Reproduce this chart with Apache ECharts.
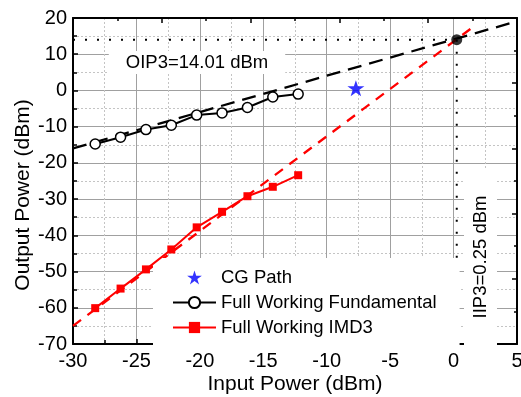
<!DOCTYPE html>
<html>
<head>
<meta charset="utf-8">
<script src="https://cdn.jsdelivr.net/npm/echarts@6/dist/echarts.min.js"></script>
<style>
  html, body { margin: 0; padding: 0; background: #fff; }
  #chart { width: 521px; height: 397px; }
</style>
</head>
<body>
<div id="chart"></div>
<script>
// Two-tone linearity measurement: input power sweep (dBm)
const inputPower = [-28.25, -26.25, -24.25, -22.25, -20.25, -18.25, -16.25, -14.25, -12.25];
// Fundamental output power (dBm)
const fundamentalOut = [-14.8, -12.9, -10.8, -9.6, -6.8, -6.2, -4.7, -1.8, -1.0];
// Third-order intermodulation output power (dBm)
const imd3Out = [-60.1, -54.7, -49.4, -43.9, -37.8, -33.5, -29.2, -26.6, -23.4];
// Single CG-path measurement [input, output]
const cgPathPoint = [-7.7, 0.6];
// Extrapolated fit lines (end points)
const fundFitX = [-30, 5];
const fundFitY = [-16.0, 19.1];
const imd3FitX = [-30, 1.8];
const imd3FitY = [-65.0, 18.2];
// Intercept point
const iip3 = 0.25;
const oip3 = 14.01;
// Axis ranges
const xRange = { min: -30, max: 5, step: 5 };
const yRange = { min: -70, max: 20, step: 10 };

const FONT = 'Liberation Sans, Arial, sans-serif';
const STAR = 'path://M50,0 L61.8,35.4 L100,35.4 L69.1,57.3 L80.9,95.1 L50,71.8 L19.1,95.1 L30.9,57.3 L0,35.4 L38.2,35.4 Z';
const zip = (xs, ys) => xs.map((x, i) => [x, ys[i]]);

const frameLine = { onZero: false, lineStyle: { color: '#000', width: 2 } };
const tickStyle = { color: '#000', width: 1.5 };

const chart = echarts.init(document.getElementById('chart'), null, { renderer: 'canvas' });

chart.setOption({
  animation: false,
  backgroundColor: '#fff',
  textStyle: { fontFamily: FONT },
  grid: { left: 73, right: 4, top: 18, bottom: 53, containLabel: false, outerBoundsMode: 'none' },
  xAxis: [
    {
      type: 'value', position: 'bottom',
      min: xRange.min, max: xRange.max, interval: xRange.step,
      axisLine: frameLine,
      axisTick: { inside: true, length: 5, lineStyle: tickStyle },
      minorTick: { show: true, splitNumber: 2, length: 4, lineStyle: tickStyle },
      axisLabel: { fontSize: 20, color: '#000', margin: 7, fontFamily: FONT, showMinLabel: true, showMaxLabel: true },
      splitLine: { show: true, lineStyle: { color: '#a0a0a0', width: 1 } },
      minorSplitLine: { show: true, lineStyle: { color: '#c4c4c4', width: 1, type: [2, 2] } },
      name: 'Input Power (dBm)', nameLocation: 'middle', nameGap: 30, nameMoveOverlap: false,
      nameTextStyle: { fontSize: 21, color: '#000', fontFamily: FONT }
    },
    {
      type: 'value', position: 'top', min: 0, max: 10, interval: 2,
      axisLine: frameLine,
      axisTick: { inside: true, length: 5, lineStyle: tickStyle },
      minorTick: { show: true, splitNumber: 2, length: 3, lineStyle: tickStyle },
      axisLabel: { show: false },
      splitLine: { show: false }
    }
  ],
  yAxis: [
    {
      type: 'value', position: 'left',
      min: yRange.min, max: yRange.max, interval: yRange.step,
      axisLine: frameLine,
      axisTick: { inside: true, length: 5, lineStyle: tickStyle },
      minorTick: { show: true, splitNumber: 2, length: 4, lineStyle: tickStyle },
      axisLabel: { fontSize: 20, color: '#000', margin: 6, fontFamily: FONT, showMinLabel: true, showMaxLabel: true },
      splitLine: { show: true, lineStyle: { color: '#a0a0a0', width: 1 } },
      minorSplitLine: { show: true, lineStyle: { color: '#c4c4c4', width: 1, type: [2, 2] } },
      name: 'Output Power (dBm)', nameLocation: 'middle', nameGap: 39, nameMoveOverlap: false,
      nameTextStyle: { fontSize: 21, color: '#000', fontFamily: FONT, padding: [0, 28, 0, 0] }
    },
    {
      type: 'value', position: 'right', min: 0, max: 10, interval: 2,
      axisLine: frameLine,
      axisTick: { inside: true, length: 5, lineStyle: tickStyle },
      minorTick: { show: true, splitNumber: 2, length: 3, lineStyle: tickStyle },
      axisLabel: { show: false },
      splitLine: { show: false }
    }
  ],
  legend: {
    orient: 'vertical',
    left: 153, top: 258,
    padding: [10, 23, 10, 19],
    backgroundColor: '#fff',
    itemWidth: 43, itemHeight: 14, itemGap: 6,
    textStyle: { fontSize: 18.5, lineHeight: 18, color: '#000', fontFamily: FONT },
    data: ['CG Path', 'Full Working Fundamental', 'Full Working IMD3']
  },
  graphic: [
    {
      type: 'text', z: 1, x: 197, y: 62.5,
      style: {
        text: 'OIP3=14.01 dBm', font: '18.5px ' + FONT, fill: '#000',
        align: 'center', verticalAlign: 'middle',
        backgroundColor: '#fff', padding: [2, 17]
      }
    },
    {
      type: 'text', z: 1, x: 480.5, y: 257, rotation: Math.PI / 2,
      style: {
        text: 'IIP3=0.25 dBm', font: '18.5px ' + FONT, fill: '#000',
        align: 'center', verticalAlign: 'middle',
        backgroundColor: '#fff', padding: [0, 27, 14, 27]
      }
    }
  ],
  series: [
    {
      name: 'Fundamental fit', type: 'line', data: zip(fundFitX, fundFitY),
      symbol: 'none', z: 3,
      lineStyle: { color: '#000', width: 2.3, type: [14, 8] }
    },
    {
      name: 'IMD3 fit', type: 'line', data: zip(imd3FitX, imd3FitY),
      symbol: 'none', z: 3,
      lineStyle: { color: '#ff0000', width: 2.3, type: [10, 8] }
    },
    {
      name: 'OIP3 guide', type: 'line', data: [[xRange.min, oip3], [iip3, oip3]],
      symbol: 'none', z: 3,
      lineStyle: { color: '#000', width: 2, type: [2, 10] }
    },
    {
      name: 'IIP3 guide', type: 'line', data: [[iip3, oip3], [iip3, yRange.min]],
      symbol: 'none', z: 3,
      lineStyle: { color: '#000', width: 2, type: [2, 10] }
    },
    {
      name: 'Full Working Fundamental', type: 'line', data: zip(inputPower, fundamentalOut),
      symbol: 'circle', symbolSize: 10, z: 4,
      lineStyle: { color: '#000', width: 2 },
      itemStyle: { color: '#fff', borderColor: '#000', borderWidth: 1.5 }
    },
    {
      name: 'Full Working IMD3', type: 'line', data: zip(inputPower, imd3Out),
      symbol: 'rect', symbolSize: 8, z: 4,
      lineStyle: { color: '#ff0000', width: 2 },
      itemStyle: { color: '#ff0000' }
    },
    {
      name: 'CG Path', type: 'scatter', data: [cgPathPoint],
      symbol: STAR, symbolSize: 17, symbolKeepAspect: true, z: 5,
      itemStyle: { color: '#0000ff' }
    },
    {
      name: 'Intercept', type: 'scatter', data: [[iip3, oip3]],
      symbol: 'circle', symbolSize: 11, z: 5,
      itemStyle: { color: '#000' }
    }
  ]
});
</script>
</body>
</html>
